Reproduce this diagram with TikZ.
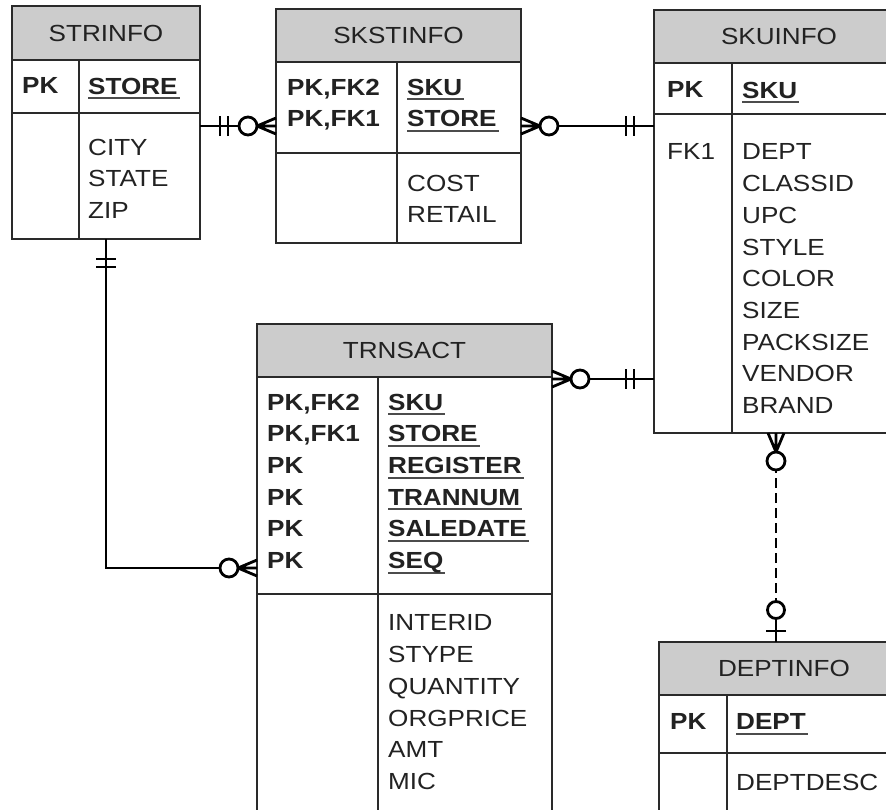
\documentclass[tikz,border=0pt]{standalone}
\usepackage{fontspec}
\setmainfont{Liberation Sans}[FakeStretch=1.12]
\usepackage{tikz}
\usetikzlibrary{positioning,calc}
\definecolor{hdrgray}{HTML}{CCCCCC}
\definecolor{boxline}{HTML}{2A2A2A}
\definecolor{inkgray}{HTML}{222222}
\newcommand{\ukey}[1]{\setbox0=\hbox{\bfseries #1}\rlap{\color{black!70}\rule[-5.2pt]{\dimexpr\wd0+2pt\relax}{2pt}}\box0}

\begin{document}
\begin{tikzpicture}[x=1pt,y=-1pt,
		font=\fontsize{23.3}{31.7}\selectfont,
		hdr/.style={draw=boxline,line width=1.9pt,fill=hdrgray,outer sep=0pt,inner sep=0pt,anchor=north west,text=inkgray},
		cell/.style={draw=boxline,line width=1.9pt,outer sep=0pt,inner sep=0pt,anchor=north west},
		txt/.style={inner sep=0pt,align=left,text=inkgray},
		keytxt/.style={txt,font=\fontsize{23.3}{31.7}\selectfont\bfseries},
		rel/.style={draw=black,line width=2.8pt},
		mand/.pic={\draw[rel] (-20,-10) -- (-20,10) (-28,-10) -- (-28,10);},
		zmany/.pic={\draw[rel] (0,-8) -- (-19,0) -- (0,8) (-19,0) -- (0,0);
			\draw[rel,fill=white] (-28,0) circle[radius=9pt];},
		zone/.pic={\draw[rel] (-32,0) -- (0,0) (-11,-10) -- (-11,10);
			\draw[rel,fill=white] (-32,0) circle[radius=8.5pt];}
		]
		\clip (0,0) rectangle (886,809);
		\fill[white] (0,0) rectangle (886,809);

		% STRINFO
		\node[hdr,minimum width=188pt,minimum height=54pt] (strinfo) at (12,6) {STRINFO};
		\node[cell,minimum width=67pt,minimum height=53pt] (strinfo-kl) at (strinfo.south west) {};
		\node[cell,minimum width=121pt,minimum height=53pt] (strinfo-kr) at (strinfo-kl.north east) {};
		\node[cell,minimum width=67pt,minimum height=126pt] (strinfo-al) at (strinfo-kl.south west) {};
		\node[cell,minimum width=121pt,minimum height=126pt] (strinfo-ar) at (strinfo-al.north east) {};
		\node[keytxt,below right=17.7pt and 10pt of strinfo-kl.north west] (strinfo-pk) {PK};
		\node[keytxt,below right=17.7pt and 9pt of strinfo-kr.north west] (strinfo-keys) {\ukey{STORE}};
		\node[txt,below right=25.7pt and 9pt of strinfo-ar.north west] (strinfo-attrs) {CITY\\STATE\\ZIP};

		% SKSTINFO
		\node[hdr,minimum width=245pt,minimum height=53pt] (skstinfo) at (276,9) {SKSTINFO};
		\node[cell,minimum width=121pt,minimum height=91pt] (skstinfo-kl) at (skstinfo.south west) {};
		\node[cell,minimum width=124pt,minimum height=91pt] (skstinfo-kr) at (skstinfo-kl.north east) {};
		\node[cell,minimum width=121pt,minimum height=90pt] (skstinfo-al) at (skstinfo-kl.south west) {};
		\node[cell,minimum width=124pt,minimum height=90pt] (skstinfo-ar) at (skstinfo-al.north east) {};
		\node[keytxt,below right=16.7pt and 11pt of skstinfo-kl.north west] (skstinfo-pk) {PK,FK2\\PK,FK1};
		\node[keytxt,below right=16.7pt and 10pt of skstinfo-kr.north west] (skstinfo-keys) {\ukey{SKU}\\\ukey{STORE}};
		\node[txt,below right=21.7pt and 10pt of skstinfo-ar.north west] (skstinfo-attrs) {COST\\RETAIL};

		% SKUINFO
		\node[hdr,minimum width=250pt,minimum height=53pt] (skuinfo) at (654,10) {SKUINFO};
		\node[cell,minimum width=78pt,minimum height=51pt] (skuinfo-kl) at (skuinfo.south west) {};
		\node[cell,minimum width=172pt,minimum height=51pt] (skuinfo-kr) at (skuinfo-kl.north east) {};
		\node[cell,minimum width=78pt,minimum height=319pt] (skuinfo-al) at (skuinfo-kl.south west) {};
		\node[cell,minimum width=172pt,minimum height=319pt] (skuinfo-ar) at (skuinfo-al.north east) {};
		\node[keytxt,below right=18.7pt and 13pt of skuinfo-kl.north west] (skuinfo-pk) {PK};
		\node[keytxt,below right=18.7pt and 10pt of skuinfo-kr.north west] (skuinfo-keys) {\ukey{SKU}};
		\node[txt,below right=29.7pt and 13pt of skuinfo-al.north west] (skuinfo-fk) {FK1};
		\node[txt,below right=29.7pt and 10pt of skuinfo-ar.north west] (skuinfo-attrs)
			{DEPT\\CLASSID\\UPC\\STYLE\\COLOR\\SIZE\\PACKSIZE\\VENDOR\\BRAND};

		% TRNSACT
		\node[hdr,minimum width=295pt,minimum height=53pt] (trnsact) at (257,324) {TRNSACT};
		\node[cell,minimum width=121pt,minimum height=217pt] (trnsact-kl) at (trnsact.south west) {};
		\node[cell,minimum width=174pt,minimum height=217pt] (trnsact-kr) at (trnsact-kl.north east) {};
		\node[cell,minimum width=121pt,minimum height=250pt] (trnsact-al) at (trnsact-kl.south west) {};
		\node[cell,minimum width=174pt,minimum height=250pt] (trnsact-ar) at (trnsact-al.north east) {};
		\node[keytxt,below right=16.7pt and 10pt of trnsact-kl.north west] (trnsact-pk)
			{PK,FK2\\PK,FK1\\PK\\PK\\PK\\PK};
		\node[keytxt,below right=16.7pt and 10pt of trnsact-kr.north west] (trnsact-keys)
			{\ukey{SKU}\\\ukey{STORE}\\\ukey{REGISTER}\\\ukey{TRANNUM}\\\ukey{SALEDATE}\\\ukey{SEQ}};
		\node[txt,below right=20.7pt and 10pt of trnsact-ar.north west] (trnsact-attrs)
			{INTERID\\STYPE\\QUANTITY\\ORGPRICE\\AMT\\MIC};

		% DEPTINFO
		\node[hdr,minimum width=250pt,minimum height=53pt] (deptinfo) at (659,642) {DEPTINFO};
		\node[cell,minimum width=68pt,minimum height=58pt] (deptinfo-kl) at (deptinfo.south west) {};
		\node[cell,minimum width=182pt,minimum height=58pt] (deptinfo-kr) at (deptinfo-kl.north east) {};
		\node[cell,minimum width=68pt,minimum height=100pt] (deptinfo-al) at (deptinfo-kl.south west) {};
		\node[cell,minimum width=182pt,minimum height=100pt] (deptinfo-ar) at (deptinfo-al.north east) {};
		\node[keytxt,below right=18.4pt and 11pt of deptinfo-kl.north west] (deptinfo-pk) {PK};
		\node[keytxt,below right=18.4pt and 9pt of deptinfo-kr.north west] (deptinfo-keys) {\ukey{DEPT}};
		\node[txt,below right=20.7pt and 9pt of deptinfo-ar.north west] (deptinfo-attrs) {DEPTDESC};

		% relationships
		\coordinate (row-top) at (0,126);
		\coordinate (row-mid) at (0,379);
		\coordinate (bend) at (106,568);
		\coordinate (col-dept) at (776,0);

		\draw[rel] (strinfo-ar.east |- row-top) -- (skstinfo-kl.west |- row-top);
		\draw[rel] (skstinfo-kr.east |- row-top) -- (skuinfo-al.west |- row-top);
		\draw[rel] (trnsact-kr.east |- row-mid) -- (skuinfo-al.west |- row-mid);
		\draw[rel] (strinfo-ar.south -| bend) |- (trnsact-kl.west |- bend);
		\draw[rel,dash pattern=on 10pt off 5pt] (skuinfo-ar.south -| col-dept) -- (deptinfo.north -| col-dept);

		\pic[rotate=180] at (strinfo-ar.east |- row-top) {mand};
		\pic at (skstinfo-kl.west |- row-top) {zmany};
		\pic[rotate=180] at (skstinfo-kr.east |- row-top) {zmany};
		\pic at (skuinfo-al.west |- row-top) {mand};
		\pic[rotate=180] at (trnsact-kr.east |- row-mid) {zmany};
		\pic at (skuinfo-al.west |- row-mid) {mand};
		\pic[rotate=90] at (strinfo-ar.south -| bend) {mand};
		\pic at (trnsact-kl.west |- bend) {zmany};
		\pic[rotate=90] at (skuinfo-ar.south -| col-dept) {zmany};
		\pic[rotate=-90] at (deptinfo.north -| col-dept) {zone};
	\end{tikzpicture}
\end{document}
